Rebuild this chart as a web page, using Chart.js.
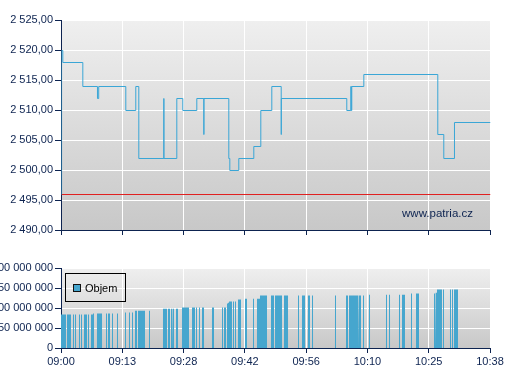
<!DOCTYPE html>
<html><head><meta charset="utf-8">
<script src="https://cdn.jsdelivr.net/npm/chart.js@4/dist/chart.umd.min.js"></script>
<style>
html,body{margin:0;padding:0;background:#fff;}
#wrap{position:relative;width:507px;height:380px;overflow:hidden;}
canvas{position:absolute;left:0;}
#c1{top:0;} #c2{top:250px;}
</style></head><body>
<div id="wrap"><canvas id="c1" width="507" height="250"></canvas><canvas id="c2" width="507" height="130"></canvas></div>
<script>
// ---- data ----
const timeLabels = ["09:00","09:13","09:28","09:42","09:56","10:10","10:25","10:38"];
const priceTickLabels = ["2 490,00","2 495,00","2 500,00","2 505,00","2 510,00","2 515,00","2 520,00","2 525,00"];
const volTickLabels = ["0","50 000 000","100 000 000","150 000 000","200 000 000"];
const watermark = "www.patria.cz";
const volLabel = "Objem";
const refPrice = 2496;
// minutes after 09:00
const priceTimes  = [0, 0.02, 0.3, 4.87, 8.22, 8.5, 14.69, 16.97, 17.66, 23.37, 23.4, 26.34, 27.71, 30.91, 32.51, 32.54, 38.22, 38.45, 40.5, 43.93, 45.53, 48.04, 50.19, 50.22, 65.17, 66.09, 66.2, 66.31, 69.06, 85.96, 87.33, 89.77, 98];
const priceValues = [2496, 2520, 2518, 2514, 2512, 2514, 2510, 2514, 2502, 2512, 2502, 2512, 2510, 2512, 2506, 2512, 2502, 2500, 2502, 2504, 2510, 2514, 2506, 2512, 2510, 2514, 2510, 2514, 2516, 2506, 2502, 2508, 2508];
// volume runs (minutes after 09:00, cumulative volume in millions)
const volStart = [0.00,1.37,2.74,3.20,3.66,4.11,4.57,5.25,6.17,6.85,7.31,8.22,10.28,10.74,11.65,12.79,14.62,15.53,16.22,16.90,17.59,20.10,22.62,23.30,24.44,25.13,25.58,26.27,27.64,29.93,30.84,31.52,32.21,34.49,36.78,37.24,37.92,38.15,38.38,39.29,39.75,40.43,42.03,43.86,44.77,45.46,47.97,48.89,50.94,54.14,55.05,56.42,57.34,62.59,65.11,65.79,68.07,68.99,69.45,70.36,70.82,72.42,74.24,74.93,77.21,77.90,79.95,81.10,85.21,85.66,85.89,87.26,88.86,89.32,89.78];
const volEnd   = [1.14,2.28,2.97,3.43,3.88,4.34,4.80,5.94,6.40,7.31,7.54,9.37,10.51,11.19,11.88,13.02,14.85,15.76,16.45,17.36,19.19,20.33,22.84,24.21,24.90,25.36,25.81,26.73,29.24,30.61,31.07,31.75,32.67,34.95,37.01,37.69,38.15,38.38,39.06,39.52,39.98,41.12,42.49,44.09,45.46,47.06,48.66,50.49,51.86,54.37,55.74,56.88,57.57,62.82,65.56,67.85,68.53,69.22,69.67,70.59,71.04,72.64,74.47,75.16,77.44,78.58,80.18,81.78,85.44,85.89,87.03,87.49,89.09,89.55,90.69];
const volValue = [84,84,84,84,84,84,84,84,84,84,86.5,86.5,86.5,86.5,86.5,86.5,89,89,89,93,93,93,93,98,98,98,98,98,101,101,101,101,101,101,101,101,111,113,116,116,116,121,123,123,123,131,131,131,131,131,131,131,131,131,131,131,131,131,133,133,133,133,133,133,133,133,136,136,136,138,146,146,146,146,146];

// ---- styles ----
const FONT = "'Liberation Sans', Arial, sans-serif";
const NAVY = "#0d2350";
const BLUE_LINE = "#3aa6d6";
const BLUE_FILL = "#46a6ce";

const bgPlugin = {
  id: 'bg',
  beforeDraw(chart) {
    const {ctx, chartArea: a} = chart;
    const g = ctx.createLinearGradient(0, a.top, 0, a.bottom);
    g.addColorStop(0, '#efefef');
    g.addColorStop(1, '#c8c8c8');
    ctx.save(); ctx.fillStyle = g;
    ctx.fillRect(a.left, a.top, a.right - a.left, a.bottom - a.top);
    ctx.restore();
  }
};
const crispPlugin = {
  id: 'crisp',
  beforeDatasetsDraw(chart) { chart.ctx.save(); chart.ctx.translate(0.5, 0.5); },
  afterDatasetsDraw(chart) { chart.ctx.restore(); }
};
const watermarkPlugin = {
  id: 'wm',
  afterDraw(chart) {
    const {ctx, chartArea: a} = chart;
    ctx.save();
    ctx.font = "11.5px " + FONT;
    ctx.fillStyle = NAVY; ctx.textAlign = 'right'; ctx.textBaseline = 'middle';
    ctx.fillText(watermark, a.right - 17, a.bottom - 16);
    ctx.restore();
  }
};
const legendPlugin = {
  id: 'lg',
  afterDraw(chart) {
    const {ctx, chartArea: a} = chart;
    ctx.save();
    ctx.strokeStyle = '#000'; ctx.lineWidth = 1;
    ctx.strokeRect(a.left + 4.5, a.top + 5.5, 60, 28);
    ctx.fillStyle = BLUE_FILL;
    ctx.fillRect(a.left + 12.5, a.top + 16.5, 7, 7);
    ctx.strokeStyle = '#111';
    ctx.strokeRect(a.left + 12.5, a.top + 16.5, 7, 7);
    ctx.font = "11px " + FONT;
    ctx.fillStyle = '#000'; ctx.textAlign = 'left'; ctx.textBaseline = 'middle';
    ctx.fillText(volLabel, a.left + 24, a.top + 21);
    ctx.restore();
  }
};

function yAxis(min, max, step, labels) {
  return {
    min, max,
    afterFit: s => { s.width = 61; },
    ticks: { stepSize: step, color: NAVY, font: {family: FONT, size: 11}, padding: 2,
             callback: (v, i) => labels[i] },
    grid: { color: '#ffffff', tickColor: NAVY, tickLength: 6 },
    border: { color: NAVY }
  };
}

// ---- price chart ----
new Chart(document.getElementById('c1'), {
  type: 'line',
  data: { datasets: [
    { label: 'Cena', data: priceTimes.map((t, i) => ({x: t, y: priceValues[i]})),
      borderColor: BLUE_LINE, borderWidth: 1, pointRadius: 0, stepped: true, fill: false },
    { label: 'ref', data: [{x: 0, y: refPrice}, {x: 98, y: refPrice}],
      borderColor: '#e02020', borderWidth: 1, pointRadius: 0, fill: false }
  ]},
  options: {
    responsive: false, animation: false, devicePixelRatio: 1,
    layout: { padding: {left: 0, top: 20, right: 17, bottom: 0} },
    plugins: { legend: {display: false}, tooltip: {enabled: false} },
    scales: {
      x: { type: 'linear', min: 0, max: 98,
           afterFit: s => { s.height = 20; },
           ticks: { display: false, stepSize: 14 },
           grid: { color: '#ffffff', tickColor: NAVY, tickLength: 5 },
           border: { color: NAVY } },
      y: yAxis(2490, 2525, 5, priceTickLabels)
    }
  },
  plugins: [bgPlugin, crispPlugin, watermarkPlugin]
});

// ---- volume chart ----
const volPts = [];
volStart.forEach((s, i) => {
  volPts.push({x: s, y: 0}, {x: s, y: volValue[i]}, {x: volEnd[i], y: volValue[i]}, {x: volEnd[i], y: 0});
});
new Chart(document.getElementById('c2'), {
  type: 'line',
  data: { datasets: [
    { label: volLabel, data: volPts, fill: 'origin', backgroundColor: BLUE_FILL,
      borderColor: 'rgba(0,0,0,0)', borderWidth: 0, pointRadius: 0, tension: 0 }
  ]},
  options: {
    responsive: false, animation: false, devicePixelRatio: 1,
    layout: { padding: {left: 0, top: 18, right: 17, bottom: 0} },
    plugins: { legend: {display: false}, tooltip: {enabled: false} },
    scales: {
      x: { type: 'linear', min: 0, max: 98,
           afterFit: s => { s.height = 32; },
           ticks: { stepSize: 14, color: NAVY, font: {family: FONT, size: 11}, padding: 2,
                    maxRotation: 0, autoSkip: false, callback: (v, i) => timeLabels[i] },
           grid: { color: '#ffffff', tickColor: NAVY, tickLength: 5 },
           border: { color: NAVY } },
      y: yAxis(0, 200, 50, volTickLabels)
    }
  },
  plugins: [bgPlugin, legendPlugin]
});
</script>
</body></html>
